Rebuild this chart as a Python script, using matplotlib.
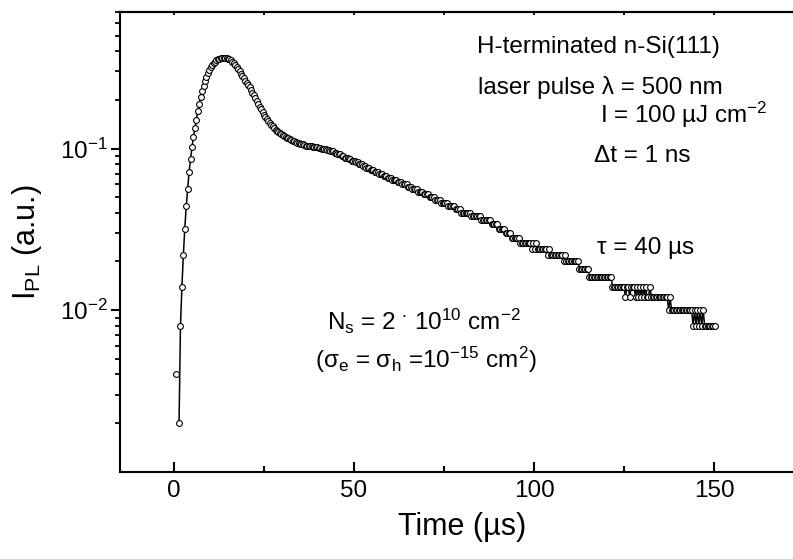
import numpy as np
import matplotlib
matplotlib.use('Agg')
import matplotlib.pyplot as plt
from matplotlib.ticker import FixedLocator, LogLocator, NullFormatter, LogFormatterMathtext

plt.rcParams['font.family'] = ['Liberation Sans', 'DejaVu Sans']
plt.rcParams['mathtext.fontset'] = 'custom'
plt.rcParams['mathtext.rm'] = 'Liberation Sans'
plt.rcParams['mathtext.it'] = 'Liberation Sans:italic'
plt.rcParams['mathtext.bf'] = 'Liberation Sans:bold'

# sampling of the transient (µs)
t_start = 0.6
dt = 0.4

# photoluminescence intensity (a.u.)
i_pl = (
    [0.004, 0, 0.002, 0.008, 0.014, 0.022, 0.032, 0.044, 0.056, 0.072,
     0.086, 0.102, 0.118, 0.134, 0.151, 0.170, 0.190, 0.208, 0.226, 0.244,
     0.262, 0.278, 0.292, 0.306, 0.318, 0.328, 0.338, 0.345, 0.351, 0.356,
     0.359, 0.362, 0.364, 0.365, 0.365, 0.363, 0.360, 0.356, 0.351, 0.345,
     0.338, 0.330, 0.320, 0.310, 0.300, 0.290, 0.280, 0.272, 0.263, 0.256,
     0.248, 0.239, 0.230, 0.222, 0.214, 0.206, 0.198, 0.190, 0.182, 0.175,
     0.168, 0.162, 0.157, 0.152, 0.148, 0.144, 0.140, 0.137, 0.134, 0.131,
     0.129, 0.127, 0.125, 0.123, 0.121, 0.120, 0.118, 0.117, 0.116, 0.114,
     0.113, 0.112, 0.111, 0.110, 0.109, 0.108, 0.107, 0.106, 0.106, 0.105,
     0.104, 0.104, 0.104, 0.103, 0.103, 0.102, 0.102, 0.102, 0.102, 0.101,
     0.101, 0.100, 0.100, 0.099, 0.099, 0.098, 0.098, 0.097, 0.096, 0.096,
     0.094, 0.094, 0.092, 0.092, 0.092, 0.090, 0.090, 0.088, 0.088, 0.088,
     0.086, 0.086, 0.084, 0.084, 0.084, 0.082, 0.082, 0.080, 0.080, 0.080,
     0.078, 0.078, 0.076, 0.076, 0.076, 0.074, 0.074, 0.074, 0.072, 0.072,
     0.072, 0.070, 0.070, 0.070, 0.068, 0.068, 0.068, 0.066, 0.066, 0.066,
     0.064, 0.064, 0.064, 0.064, 0.062, 0.062, 0.062, 0.060, 0.060, 0.060,
     0.060, 0.058, 0.058, 0.058, 0.056, 0.056, 0.056, 0.056, 0.054, 0.054,
     0.054, 0.054, 0.052, 0.052, 0.052, 0.052, 0.050, 0.050, 0.050, 0.050,
     0.048, 0.048, 0.048, 0.048, 0.046, 0.046, 0.046, 0.046, 0.046, 0.044,
     0.044, 0.044, 0.044, 0.044, 0.042, 0.042, 0.042, 0.042, 0.040, 0.040,
     0.040, 0.040, 0.040, 0.040, 0.040, 0.038, 0.038, 0.038, 0.038, 0.038,
     0.038, 0.038, 0.036, 0.036, 0.036, 0.036, 0.036, 0.036, 0.036, 0.034,
     0.034, 0.034, 0.034, 0.034, 0.032, 0.032, 0.032, 0.032, 0.032, 0.030,
     0.030, 0.030, 0.030, 0.028, 0.028, 0.028, 0.028, 0.028, 0.028, 0.026,
     0.026, 0.026, 0.026, 0.026, 0.026, 0.026, 0.026, 0.024, 0.026, 0.024,
     0.026, 0.024, 0.024, 0.024, 0.024, 0.024, 0.024, 0.024, 0.022, 0.024,
     0.022, 0.022, 0.022, 0.022, 0.022, 0.022, 0.022, 0.022, 0.022, 0.020,
     0.022, 0.020, 0.020, 0.020, 0.020, 0.020, 0.020, 0.020, 0.020, 0.020,
     0.018, 0.018, 0.018, 0.018, 0.018, 0.018, 0.018, 0.016, 0.016, 0.016,
     0.016, 0.016, 0.016, 0.016, 0.016, 0.016, 0.016, 0.016, 0.016, 0.016,
     0.016, 0.016, 0.016, 0.014, 0.014, 0.014, 0.014, 0.014, 0.014, 0.014,
     0.014, 0.014, 0.012, 0.014, 0.014, 0.012, 0.014, 0.014, 0.014, 0.012,
     0.014, 0.012, 0.014, 0.012, 0.014, 0.012, 0.014, 0.012, 0.012, 0.014,
     0.012, 0.012, 0.012, 0.012, 0.012, 0.012, 0.012, 0.012, 0.012, 0.012,
     0.012, 0.012, 0.010, 0.012, 0.010, 0.010, 0.010, 0.010, 0.010, 0.010,
     0.010, 0.010, 0.010, 0.010, 0.010, 0.010, 0.010, 0.010, 0.010, 0.008,
     0.010, 0.008, 0.010, 0.008, 0.010, 0.008, 0.010, 0.008, 0.008, 0.008,
     0.008, 0.008, 0.008, 0.008, 0.008]
)
time = t_start + dt * np.arange(len(i_pl))

x_major = [0, 50, 100, 150]
x_minor = [25, 75, 125]
y_major = [1e-2, 1e-1]

W, H = 793, 559
fig = plt.figure(figsize=(W / 100, H / 100), dpi=100)
ax = fig.add_axes([120 / W, 87.3 / H, 684 / W, 459.7 / H])
ax.set_yscale('log', nonpositive='mask')
ax.plot(time, i_pl, '-', color='black', lw=1.1, marker='o', ms=4.2,
        mfc='white', mec='black', mew=0.8)
ax.set_xlim(-15, 175)
ax.set_ylim(1e-3, 0.7)

ax.xaxis.set_major_locator(FixedLocator(x_major))
ax.xaxis.set_minor_locator(FixedLocator(x_minor))
ax.yaxis.set_major_locator(FixedLocator(y_major))
ax.yaxis.set_minor_locator(LogLocator(base=10, subs=np.arange(2, 10) * 1.0, numticks=20))
ax.yaxis.set_major_formatter(LogFormatterMathtext())
ax.yaxis.set_minor_formatter(NullFormatter())

for sp in ax.spines.values():
    sp.set_linewidth(1.5)

ax.tick_params(axis='x', which='both', direction='in', top=False, bottom=True)
ax.tick_params(axis='x', which='major', length=7, width=1.5, labelsize=17.5, pad=6)
ax.tick_params(axis='x', which='minor', length=4.5, width=1.5)
ax.tick_params(axis='y', which='both', direction='out', left=True, right=False)
ax.tick_params(axis='y', which='major', length=6.5, width=1.5, labelsize=17.5, pad=2)
ax.tick_params(axis='y', which='minor', length=3.8, width=1.3)

top = ax.secondary_xaxis('top')
top.xaxis.set_major_locator(FixedLocator(x_major + x_minor))
top.tick_params(axis='x', which='both', direction='in', length=2.5, width=1.3, labeltop=False)
top.spines['top'].set_linewidth(1.5)

ax.set_xlabel('Time (µs)', fontsize=22)
ax.xaxis.set_label_coords(0.5, -0.088)
ax.set_ylabel('I$_\\mathregular{PL}$ (a.u.)', fontsize=22)
ax.yaxis.set_label_coords(-0.111, 0.5)


def ftext(x, y, s, **kw):
    fig.text(x / W, 1 - y / H, s, fontsize=17.5, va='baseline', ha='left', **kw)


ftext(476.7, 53.3, 'H-terminated n-Si(111)')
ftext(478.3, 94.3, 'laser pulse λ = 500 nm')
ftext(600, 123.3, 'I = 100 µJ cm$^\\mathregular{-2}$')
ftext(594.3, 161.7, 'Δt = 1 ns')
ftext(596.7, 254, 'τ = 40 µs')
ftext(326.7, 330, 'N$_\\mathregular{s}$ = 2 $^\\mathregular{\\cdot}$ 10$^\\mathregular{10}$ cm$^\\mathregular{-2}$')
ftext(315, 368.3, '(σ$_\\mathregular{e}$ = σ$_\\mathregular{h}$ =10$^\\mathregular{-15}$ cm$^\\mathregular{2}$)')

fig.savefig('out.png', dpi=100)
